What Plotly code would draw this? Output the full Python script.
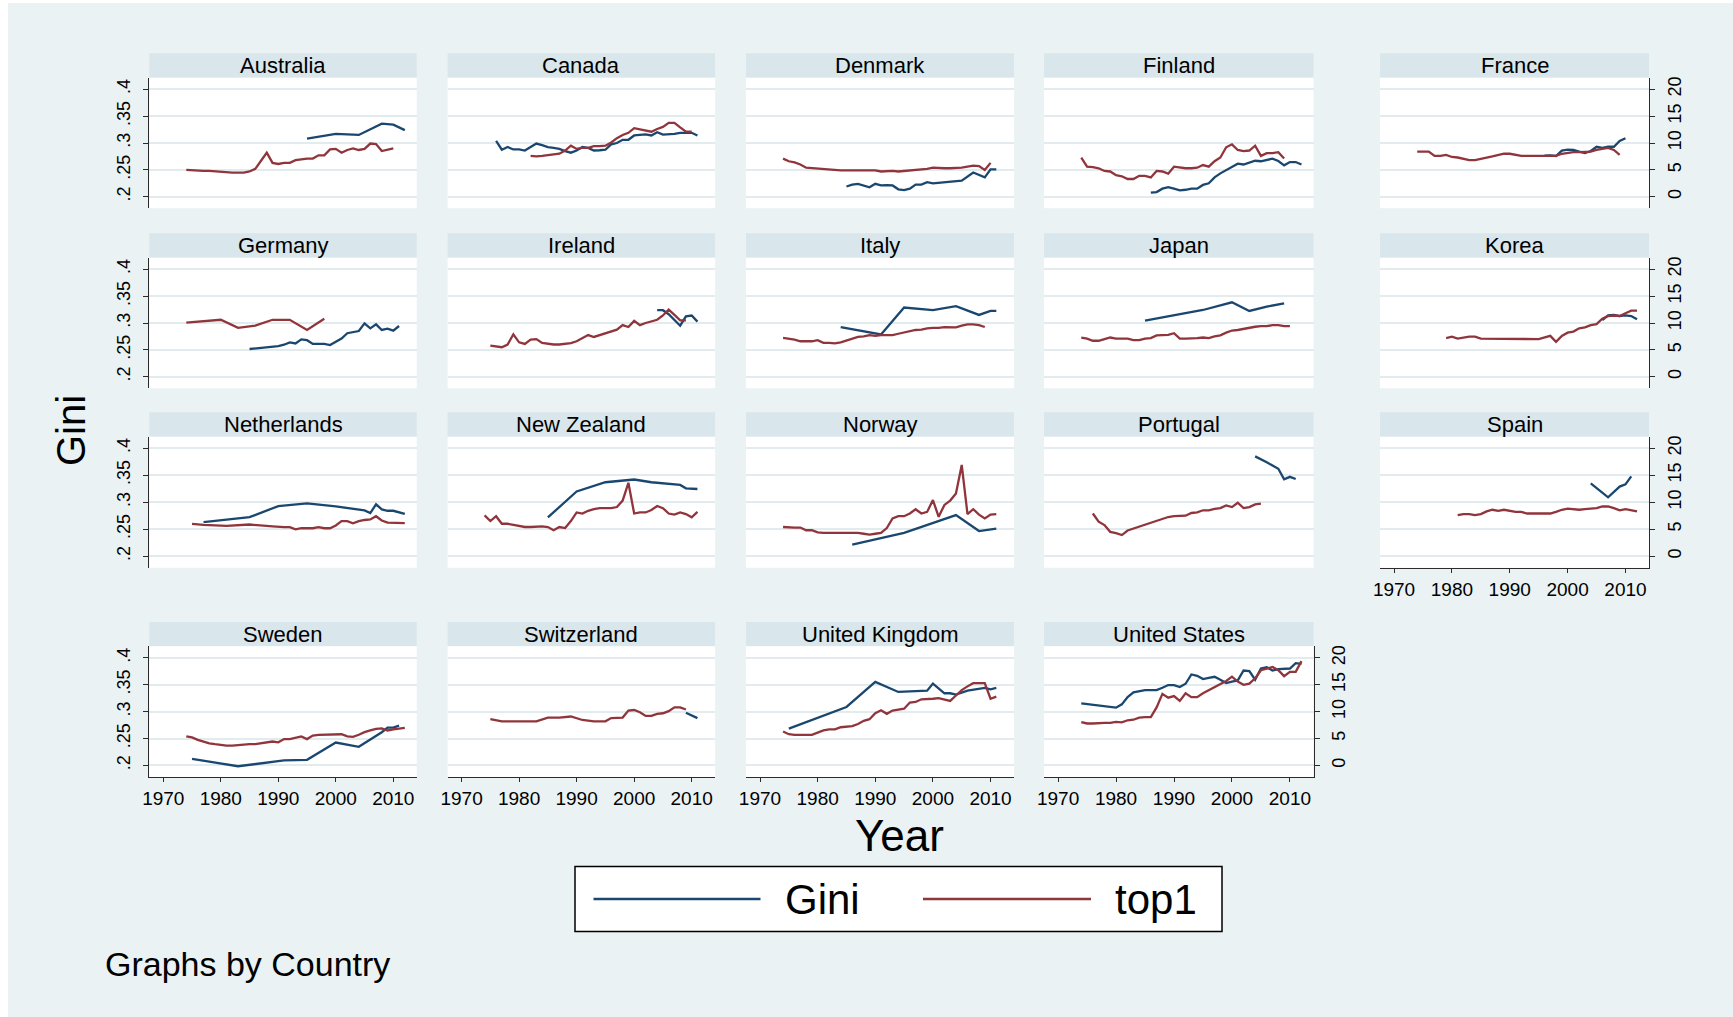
import plotly.graph_objects as go

W, H = 1733, 1017

countries = ["Australia", "Canada", "Denmark", "Finland", "France",
             "Germany", "Ireland", "Italy", "Japan", "Korea",
             "Netherlands", "New Zealand", "Norway", "Portugal", "Spain",
             "Sweden", "Switzerland", "United Kingdom", "United States"]

x_ticks = [1970, 1980, 1990, 2000, 2010]
gini_ticks = [0.2, 0.25, 0.3, 0.35, 0.4]
gini_tick_text = [".2", ".25", ".3", ".35", ".4"]
top1_ticks = [0, 5, 10, 15, 20]
top1_tick_text = ["0", "5", "10", "15", "20"]

# ---- Australia
australia_gini_years = [1995, 2000, 2004, 2008, 2010, 2012]
australia_gini = [0.308, 0.317, 0.315, 0.336, 0.334, 0.324]
australia_top1_years = list(range(1974, 2011))
australia_top1 = [5.0, 4.9, 4.8, 4.8, 4.8, 4.7, 4.7, 4.5, 4.5, 4.5,
                  4.5, 4.7, 5.2, 6.7, 8.2, 6.3, 6.1, 6.3, 6.3, 6.8,
                  7.0, 7.1, 7.1, 7.7, 7.7, 8.8, 8.9, 8.2, 8.7, 9.0,
                  8.7, 8.9, 9.9, 9.8, 8.5, 8.7, 9.0]

# ---- Canada
canada_gini_years = list(range(1976, 2012))
canada_gini = [0.304, 0.2875, 0.2925, 0.288, 0.288, 0.286, 0.2925, 0.299, 0.296, 0.2925,
               0.291, 0.289, 0.285, 0.282, 0.286, 0.2925, 0.291, 0.286, 0.2865, 0.2875,
               0.2975, 0.300, 0.306, 0.306, 0.314, 0.315, 0.316, 0.314, 0.320, 0.3156,
               0.316, 0.317, 0.319, 0.319, 0.319, 0.314]
canada_top1_years = list(range(1982, 2011))
canada_top1 = [7.6, 7.5, 7.6, 7.7, 7.8, 8.0, 8.6, 9.5, 8.9, 9.1,
               9.1, 9.4, 9.4, 9.5, 10.1, 10.9, 11.5, 11.9, 12.75, 12.5,
               12.25, 12.1, 12.6, 13.0, 13.75, 13.75, 12.9, 12.1, 12.1]

# ---- Denmark
denmark_gini_years = list(range(1985, 2001)) + [2005, 2007, 2009, 2010, 2011]
denmark_gini = [0.219, 0.2225, 0.224, 0.221, 0.2175, 0.224, 0.221, 0.2215, 0.221, 0.2138,
                0.2125, 0.215, 0.2225, 0.2225, 0.227, 0.225,
                0.230, 0.245, 0.236, 0.251, 0.251]
denmark_top1_years = list(range(1974, 2011))
denmark_top1 = [7.1, 6.6, 6.4, 6.0, 5.4, 5.3, 5.2, 5.1, 5.0, 4.9,
                4.9, 4.9, 4.9, 4.9, 4.9, 4.9, 4.9, 4.7, 4.8, 4.8,
                4.7, 4.8, 4.9, 5.0, 5.0, 5.2, 5.4, 5.3, 5.3, 5.3,
                5.3, 5.4, 5.6, 5.8, 5.7, 5.0, 6.3]

# ---- Finland
finland_gini_years = list(range(1986, 2013))
finland_gini = [0.2075, 0.2087, 0.215, 0.218, 0.215, 0.212, 0.213, 0.215, 0.215, 0.222,
                0.225, 0.236, 0.2435, 0.249, 0.2547, 0.2615, 0.260, 0.264, 0.267, 0.266,
                0.2683, 0.271, 0.2665, 0.2584, 0.2646, 0.2646, 0.260]
finland_top1_years = list(range(1974, 2010))
finland_top1 = [7.3, 5.6, 5.5, 5.3, 4.8, 4.7, 4.0, 3.8, 3.3, 3.3,
                3.9, 3.9, 3.6, 4.8, 4.7, 4.3, 5.6, 5.4, 5.3, 5.3,
                5.4, 5.9, 5.6, 6.6, 7.3, 9.2, 9.75, 8.7, 8.5, 8.6,
                9.5, 7.6, 8.1, 8.1, 8.3, 7.1]

# ---- France
france_gini_years = list(range(1996, 2011))
france_gini = [0.2764, 0.277, 0.2758, 0.2857, 0.2876, 0.287, 0.284, 0.2814, 0.2851, 0.293,
               0.291, 0.293, 0.293, 0.3037, 0.309]
france_top1_years = list(range(1974, 2010))
france_top1 = [8.4, 8.4, 8.4, 7.6, 7.6, 7.8, 7.4, 7.3, 7.0, 6.8,
               6.8, 7.1, 7.3, 7.5, 7.8, 8.0, 8.0, 7.8, 7.6, 7.6,
               7.6, 7.6, 7.6, 7.6, 7.6, 8.0, 8.2, 8.3, 8.3, 8.3,
               8.4, 8.7, 8.9, 9.1, 8.7, 7.8]

# ---- Germany
germany_gini_years = [1985] + list(range(1990, 2012))
germany_gini = [0.2516, 0.2571, 0.2596, 0.264, 0.262, 0.2696, 0.268, 0.261, 0.261, 0.261,
                0.259, 0.265, 0.271, 0.281, 0.2826, 0.285, 0.2994, 0.290, 0.2975, 0.287,
                0.2894, 0.2857, 0.2944]
germany_top1_years = [1974, 1977, 1980, 1983, 1986, 1989, 1992, 1995, 1998]
germany_top1 = [10.06, 10.3, 10.6, 9.1, 9.5, 10.6, 10.6, 8.7, 10.8]

# ---- Ireland
ireland_gini_years = list(range(2004, 2012))
ireland_gini = [0.3238, 0.3238, 0.3163, 0.305, 0.295, 0.3125, 0.3138, 0.3025]
ireland_top1_years = list(range(1975, 2010))
ireland_top1 = [5.8, 5.6, 5.5, 6.0, 7.9, 6.4, 6.1, 6.9, 7.0, 6.3,
                6.1, 6.0, 6.0, 6.1, 6.25, 6.6, 7.2, 7.75, 7.4, 7.75,
                8.1, 8.5, 8.75, 9.6, 9.25, 10.4, 9.6, 10.0, 10.25, 10.6,
                11.4, 12.5, 11.5, 10.5, 10.5]

# ---- Italy
italy_gini_years = [1984, 1991, 1995, 2000, 2004, 2008, 2010, 2011]
italy_gini = [0.2925, 0.2788, 0.3288, 0.3238, 0.3313, 0.315, 0.3225, 0.3225]
italy_top1_years = list(range(1974, 2010))
italy_top1 = [7.25, 7.1, 6.9, 6.6, 6.6, 6.6, 6.8, 6.3, 6.3, 6.2,
              6.4, 6.75, 7.1, 7.4, 7.5, 7.75, 7.6, 7.75, 7.75, 7.75,
              8.0, 8.25, 8.4, 8.7, 8.75, 9.0, 9.1, 9.1, 9.25, 9.25,
              9.2, 9.5, 9.75, 9.75, 9.6, 9.25]

# ---- Japan
japan_gini_years = [1985, 1995, 2000, 2003, 2006, 2009]
japan_gini = [0.3044, 0.3242, 0.3385, 0.3224, 0.3304, 0.3366]
japan_top1_years = list(range(1974, 2011))
japan_top1 = [7.3, 7.1, 6.7, 6.7, 7.0, 7.3, 7.1, 7.1, 7.1, 6.8,
              6.8, 7.1, 7.2, 7.7, 7.7, 7.8, 8.1, 7.1, 7.1, 7.1,
              7.2, 7.3, 7.2, 7.5, 7.7, 8.2, 8.6, 8.7, 8.9, 9.2,
              9.3, 9.4, 9.4, 9.6, 9.6, 9.4, 9.4]

# ---- Korea
korea_gini_years = list(range(2006, 2013))
korea_gini = [0.3056, 0.3143, 0.315, 0.313, 0.3143, 0.313, 0.3068]
korea_top1_years = list(range(1979, 1986)) + list(range(1995, 2013))
korea_top1 = [7.2, 7.45, 7.1, 7.3, 7.45, 7.45, 7.1,
              7.0, 7.3, 7.6, 6.5, 7.6, 8.2, 8.4, 9.0, 9.2, 9.6,
              9.8, 10.8, 11.3, 11.4, 11.3, 11.8, 12.3, 12.3]

# ---- Netherlands
netherlands_gini_years = [1977, 1985, 1990, 1995, 2000, 2005, 2006, 2007, 2008, 2009, 2010, 2011, 2012]
netherlands_gini = [0.263, 0.2723, 0.2928, 0.2978, 0.2922, 0.2847, 0.2798, 0.296, 0.2866,
                    0.2841, 0.2841, 0.281, 0.2785]
netherlands_top1_years = [1975, 1977, 1981, 1985] + list(range(1989, 2013))
netherlands_top1 = [5.98, 5.8, 5.6, 5.86,
                    5.5, 5.36, 5.36, 5.36, 4.98, 5.17, 5.17, 5.17, 5.36, 5.17,
                    5.17, 5.67, 6.48, 6.48, 6.1, 6.48, 6.7, 6.8, 7.4, 6.6,
                    6.2, 6.2, 6.1, 6.1]

# ---- New Zealand
new_zealand_gini_years = [1985, 1990, 1995, 2000, 2003, 2008, 2009, 2011]
new_zealand_gini = [0.2717, 0.320, 0.337, 0.3421, 0.337, 0.332, 0.3258, 0.3245]
new_zealand_top1_years = list(range(1974, 2012))
new_zealand_top1 = [7.55, 6.5, 7.4, 6.0, 6.0, 5.8, 5.6, 5.4, 5.4, 5.5,
                    5.5, 5.4, 4.8, 5.4, 5.2, 6.5, 8.1, 7.9, 8.4, 8.7,
                    8.9, 8.9, 8.9, 9.1, 10.3, 13.6, 7.9, 8.1, 8.1, 8.55,
                    9.3, 8.9, 7.9, 7.7, 8.1, 7.8, 7.2, 8.2]

# ---- Norway
norway_gini_years = [1986, 1995, 2004, 2008, 2011]
norway_gini = [0.2214, 0.243, 0.2761, 0.2465, 0.251]
norway_top1_years = list(range(1974, 2012))
norway_top1 = [5.4, 5.3, 5.3, 5.3, 4.8, 4.8, 4.4, 4.3, 4.3, 4.3,
               4.3, 4.3, 4.3, 4.3, 4.15, 4.0, 4.15, 4.3, 5.2, 7.0,
               7.4, 7.4, 7.9, 8.7, 7.9, 8.2, 10.4, 7.3, 9.5, 10.3,
               11.6, 16.9, 7.8, 8.7, 7.7, 7.0, 7.7, 7.8]

# ---- Portugal
portugal_gini_years = list(range(2004, 2012))
portugal_gini = [0.385, 0.380, 0.374, 0.368, 0.362, 0.3425, 0.347, 0.343]
portugal_top1_years = list(range(1976, 1983)) + list(range(1989, 2006))
portugal_top1 = [7.9, 6.4, 5.75, 4.5, 4.25, 3.9, 4.75,
                 7.25, 7.4, 7.5, 7.5, 8.0, 8.1, 8.5, 8.5, 8.75, 8.9,
                 9.4, 9.1, 9.9, 8.9, 9.1, 9.6, 9.75]

# ---- Spain
spain_gini_years = [2004, 2007, 2009, 2010, 2011]
spain_gini = [0.335, 0.309, 0.329, 0.333, 0.348]
spain_top1_years = list(range(1981, 2013))
spain_top1 = [7.6, 7.8, 7.8, 7.6, 7.8, 8.3, 8.6, 8.4, 8.6, 8.4,
              8.2, 8.2, 7.9, 7.9, 7.9, 7.9, 7.9, 8.2, 8.6, 8.8,
              8.7, 8.6, 8.7, 8.8, 8.9, 9.2, 9.2, 8.9, 8.5, 8.7,
              8.5, 8.3]

# ---- Sweden
sweden_gini_years = [1975, 1983, 1991, 1995, 2000, 2004, 2008, 2009, 2010, 2011]
sweden_gini = [0.2123, 0.1985, 0.2093, 0.2105, 0.2426, 0.2346, 0.2617, 0.2704, 0.2704, 0.2741]
sweden_top1_years = list(range(1974, 2013))
sweden_top1 = [5.4, 5.2, 4.75, 4.4, 4.1, 3.95, 3.8, 3.7, 3.7, 3.8,
               3.95, 3.95, 3.95, 4.1, 4.3, 4.45, 4.3, 4.9, 4.9, 5.1,
               5.4, 4.9, 5.55, 5.7, 5.7, 5.8, 5.8, 5.8, 5.4, 5.3,
               5.7, 6.2, 6.5, 6.8, 6.9, 6.5, 6.7, 6.9, 7.0]

# ---- Switzerland
switzerland_gini_years = [2009, 2010, 2011]
switzerland_gini = [0.298, 0.293, 0.288]
switzerland_top1_years = [1975, 1977, 1979, 1981, 1983, 1985, 1987, 1989, 1991, 1993] + list(range(1995, 2010))
switzerland_top1 = [8.6, 8.2, 8.2, 8.2, 8.2, 8.9, 8.9, 9.1, 8.45, 8.2,
                    8.2, 8.8, 8.8, 8.9, 10.2, 10.3, 9.9, 9.2, 9.2, 9.6,
                    9.7, 10.1, 10.8, 10.8, 10.4]

# ---- United Kingdom
uk_gini_years = [1975, 1985, 1990, 1994, 1999, 2000, 2002, 2003, 2004, 2006, 2009, 2010, 2011]
uk_gini = [0.2683, 0.3087, 0.3553, 0.3366, 0.339, 0.3522, 0.3342, 0.3342, 0.3317, 0.339,
           0.344, 0.3416, 0.344]
uk_top1_years = list(range(1974, 2012))
uk_top1 = [6.3, 5.8, 5.7, 5.7, 5.6, 5.7, 6.1, 6.5, 6.7, 6.7,
           7.1, 7.2, 7.3, 7.7, 8.3, 8.6, 9.7, 10.25, 9.6, 10.2,
           10.4, 10.55, 11.7, 11.8, 12.3, 12.3, 12.4, 12.5, 12.2, 12.0,
           13.0, 14.0, 14.7, 15.3, 15.3, 15.3, 12.4, 12.8]

# ---- United States
us_gini_years = [1974] + list(range(1980, 2013))
us_gini = [0.3154,
           0.3074, 0.3136, 0.3272, 0.3358, 0.3383, 0.340, 0.340, 0.340, 0.3444, 0.3494,
           0.3494, 0.3457, 0.3519, 0.3691, 0.3667, 0.3605, 0.363, 0.3648, 0.3593, 0.3531,
           0.3556, 0.358, 0.3765, 0.3753, 0.3593, 0.3802, 0.3827, 0.3765, 0.379, 0.379,
           0.3802, 0.3901, 0.3889]
us_top1_years = list(range(1974, 2013))
us_top1 = [8.07, 7.8, 7.8, 7.9, 7.9, 7.9, 8.1, 8.0, 8.4, 8.5,
           8.9, 9.0, 9.0, 10.8, 13.3, 12.6, 12.9, 12.0, 13.4, 12.7,
           12.7, 13.4, 14.0, 14.6, 15.1, 15.7, 16.5, 15.6, 15.0, 15.2,
           16.2, 17.7, 18.0, 18.3, 17.7, 16.6, 17.4, 17.4, 19.4]

series = {
    "Australia": (australia_gini_years, australia_gini, australia_top1_years, australia_top1),
    "Canada": (canada_gini_years, canada_gini, canada_top1_years, canada_top1),
    "Denmark": (denmark_gini_years, denmark_gini, denmark_top1_years, denmark_top1),
    "Finland": (finland_gini_years, finland_gini, finland_top1_years, finland_top1),
    "France": (france_gini_years, france_gini, france_top1_years, france_top1),
    "Germany": (germany_gini_years, germany_gini, germany_top1_years, germany_top1),
    "Ireland": (ireland_gini_years, ireland_gini, ireland_top1_years, ireland_top1),
    "Italy": (italy_gini_years, italy_gini, italy_top1_years, italy_top1),
    "Japan": (japan_gini_years, japan_gini, japan_top1_years, japan_top1),
    "Korea": (korea_gini_years, korea_gini, korea_top1_years, korea_top1),
    "Netherlands": (netherlands_gini_years, netherlands_gini, netherlands_top1_years, netherlands_top1),
    "New Zealand": (new_zealand_gini_years, new_zealand_gini, new_zealand_top1_years, new_zealand_top1),
    "Norway": (norway_gini_years, norway_gini, norway_top1_years, norway_top1),
    "Portugal": (portugal_gini_years, portugal_gini, portugal_top1_years, portugal_top1),
    "Spain": (spain_gini_years, spain_gini, spain_top1_years, spain_top1),
    "Sweden": (sweden_gini_years, sweden_gini, sweden_top1_years, sweden_top1),
    "Switzerland": (switzerland_gini_years, switzerland_gini, switzerland_top1_years, switzerland_top1),
    "United Kingdom": (uk_gini_years, uk_gini, uk_top1_years, uk_top1),
    "United States": (us_gini_years, us_gini, us_top1_years, us_top1),
}

for name, (gy, gv, ty, tv) in series.items():
    assert len(gy) == len(gv), name + " gini"
    assert len(ty) == len(tv), name + " top1"

# ---- styling
FONT = "Liberation Sans, Arial, Helvetica, sans-serif"
BG = "#EAF2F3"
STRIP = "#D9E6EB"
GRID = "#E2EBEE"
AXIS = "#2b2b2b"
BLUE = "#1A476F"
RED = "#90353B"
LINE_W = 2.3

X_RANGE = [1967.57, 2014.07]
G_RANGE = [0.1785, 0.4215]
T_RANGE = [(G_RANGE[0] - 0.2) * 100, (G_RANGE[1] - 0.2) * 100]

# panel plot-region edges in pixels
col_x = [(149.3, 416.7), (447.6, 715.1), (746.0, 1014.0), (1044.0, 1313.5), (1380.0, 1649.0)]
row_y = [(77.7, 208.3), (257.7, 388.3), (436.7, 567.7), (646.3, 777.0)]
STRIP_H = 24.4


def fx(px):
    return px / W


def fy(py):
    return 1 - py / H


fig = go.Figure()
layout = dict(width=W, height=H, margin=dict(l=0, r=0, t=0, b=0, pad=0, autoexpand=False),
              paper_bgcolor="white", plot_bgcolor="white", showlegend=False,
              font=dict(family=FONT, color="black"))
shapes = [dict(type="rect", xref="paper", yref="paper", x0=fx(8), x1=1, y0=0, y1=fy(3),
               fillcolor=BG, line=dict(width=0), layer="below")]
annotations = []

for i, name in enumerate(countries):
    r, c = (i // 5, i % 5) if i < 15 else (3, i - 15)
    x0, x1 = col_x[c]
    yt, yb = row_y[r]
    n = i + 1
    gk, tk = 2 * i + 1, 2 * i + 2
    xname = "xaxis" if n == 1 else f"xaxis{n}"
    xref = "x" if n == 1 else f"x{n}"
    gname = "yaxis" if gk == 1 else f"yaxis{gk}"
    gref = "y" if gk == 1 else f"y{gk}"
    tname = f"yaxis{tk}"
    tref = f"y{tk}"

    bottom = (name == "Spain") or r == 3
    left = c == 0
    right = c == 4 or name == "United States"

    layout[xname] = dict(
        domain=[fx(x0), fx(x1)], anchor=gref, range=X_RANGE, automargin=False,
        showgrid=False, zeroline=False, fixedrange=True,
        tickvals=x_ticks, ticktext=[str(v) for v in x_ticks],
        showticklabels=bottom, ticks="outside" if bottom else "",
        ticklen=4, tickwidth=1.2, tickcolor=AXIS,
        showline=bottom, linecolor=AXIS, linewidth=1.2,
        tickfont=dict(size=19, family=FONT, color="black"),
        ticklabelstandoff=0,
    )
    layout[gname] = dict(
        domain=[fy(yb), fy(yt)], anchor=xref, range=G_RANGE, automargin=False,
        tickvals=gini_ticks, ticktext=gini_tick_text,
        showgrid=True, gridcolor=GRID, gridwidth=1.6, zeroline=False, fixedrange=True,
        showticklabels=left, ticks="outside" if left else "",
        ticklen=5, tickwidth=1.2, tickcolor=AXIS, tickangle=-90,
        showline=left, linecolor=AXIS, linewidth=1.2,
        tickfont=dict(size=18, family=FONT, color="black"),
        ticklabelstandoff=6,
    )
    layout[tname] = dict(
        overlaying=gref, side="right", anchor=xref, range=T_RANGE, automargin=False,
        tickvals=top1_ticks, ticktext=top1_tick_text,
        showgrid=False, zeroline=False, fixedrange=True,
        showticklabels=right, ticks="outside" if right else "",
        ticklen=5, tickwidth=1.2, tickcolor=AXIS, tickangle=-90,
        showline=right, linecolor=AXIS, linewidth=1.2,
        tickfont=dict(size=18, family=FONT, color="black"),
        ticklabelstandoff=4,
    )

    gy, gv, ty, tv = series[name]
    fig.add_trace(go.Scatter(x=gy, y=gv, xaxis=xref, yaxis=gref, mode="lines",
                             name="Gini", line=dict(color=BLUE, width=LINE_W)))
    fig.add_trace(go.Scatter(x=ty, y=tv, xaxis=xref, yaxis=tref, mode="lines",
                             name="top1", line=dict(color=RED, width=LINE_W)))

    # strip with the country name
    shapes.append(dict(type="rect", xref="paper", yref="paper",
                       x0=fx(x0), x1=fx(x1), y0=fy(yt), y1=fy(yt - STRIP_H),
                       fillcolor=STRIP, line=dict(width=0), layer="below"))
    annotations.append(dict(text=name, xref="paper", yref="paper",
                            x=fx((x0 + x1) / 2), y=fy(yt - STRIP_H / 2),
                            xanchor="center", yanchor="middle", showarrow=False,
                            font=dict(size=22, family=FONT, color="black")))

# plot regions are white panels on the tinted background
for i in range(len(countries)):
    r, c = (i // 5, i % 5) if i < 15 else (3, i - 15)
    x0, x1 = col_x[c]
    yt, yb = row_y[r]
    shapes.append(dict(type="rect", xref="paper", yref="paper",
                       x0=fx(x0), x1=fx(x1), y0=fy(yb), y1=fy(yt),
                       fillcolor="white", line=dict(width=0), layer="below"))

# axis titles
annotations.append(dict(text="Gini", xref="paper", yref="paper", x=fx(71), y=fy(431),
                        textangle=-90, xanchor="center", yanchor="middle", showarrow=False,
                        font=dict(size=40, family=FONT, color="black")))
annotations.append(dict(text="Year", xref="paper", yref="paper", x=fx(899), y=fy(835),
                        xanchor="center", yanchor="middle", showarrow=False,
                        font=dict(size=44, family=FONT, color="black")))
annotations.append(dict(text="Graphs by Country", xref="paper", yref="paper", x=fx(103), y=fy(964),
                        xanchor="left", yanchor="middle", showarrow=False,
                        font=dict(size=34, family=FONT, color="black")))

# legend box
LEG_Y = 899
shapes.append(dict(type="rect", xref="paper", yref="paper",
                   x0=fx(575), x1=fx(1222), y0=fy(931.5), y1=fy(866.5),
                   fillcolor="white", line=dict(color="black", width=1.5)))
shapes.append(dict(type="line", xref="paper", yref="paper",
                   x0=fx(593.5), x1=fx(760.5), y0=fy(LEG_Y), y1=fy(LEG_Y),
                   line=dict(color=BLUE, width=2.4)))
shapes.append(dict(type="line", xref="paper", yref="paper",
                   x0=fx(923), x1=fx(1091), y0=fy(LEG_Y), y1=fy(LEG_Y),
                   line=dict(color=RED, width=2.4)))
annotations.append(dict(text="Gini", xref="paper", yref="paper", x=fx(783), y=fy(LEG_Y),
                        xanchor="left", yanchor="middle", showarrow=False,
                        font=dict(size=42, family=FONT, color="black")))
annotations.append(dict(text="top1", xref="paper", yref="paper", x=fx(1113), y=fy(LEG_Y),
                        xanchor="left", yanchor="middle", showarrow=False,
                        font=dict(size=42, family=FONT, color="black")))

layout["shapes"] = shapes
layout["annotations"] = annotations
fig.update_layout(**layout)
fig.write_html("out.html", post_script="document.body.style.margin='0px';")
